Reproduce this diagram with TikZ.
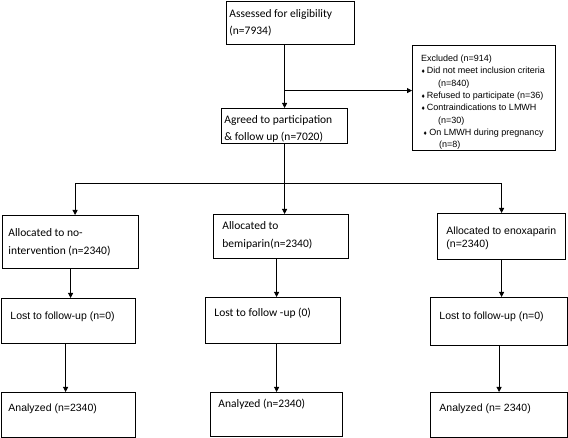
\documentclass[tikz,border=0pt]{standalone}
\usepackage{fontspec}
\setmainfont{Carlito}
\newfontfamily\arialfont{Liberation Sans}
\usetikzlibrary{arrows.meta}
\newcommand{\exbullet}{{\fontsize{6.5}{6.5}\selectfont ♦}}
\begin{document}
\begin{tikzpicture}[x=1pt, y=-1pt, line width=0.9pt,
  box/.style={draw, line width=1.2pt, inner sep=0pt, anchor=north west},
  ctxt/.style={anchor=north west, inner sep=0pt, align=left, font=\fontsize{11.5}{18}\selectfont},
  atxt/.style={anchor=north west, inner sep=0pt, align=left, font=\arialfont\fontsize{10.5}{13}\selectfont},
  arr/.style={-{Triangle[width=5pt, length=5pt]}}]
  \useasboundingbox (0,0) rectangle (568,438);
  % Screening and enrolment
  \node[box, minimum width=128, minimum height=43] (assess) at (226,1) {};
  \node[ctxt, font=\fontsize{11.5}{17}\selectfont] (assesstext) at ([shift={(3,8)}]assess.north west) {Assessed for eligibility\\(n=7934)};
  \node[box, minimum width=126, minimum height=35] (agreed) at (221,108) {};
  \node[ctxt, font=\fontsize{11.5}{17}\selectfont] (agreedtext) at ([shift={(3,7.5)}]agreed.north west) {Agreed to participation\\\& follow up (n=7020)};
  \node[box, minimum width=143, minimum height=105] (excl) at (412,45) {};
  \node[anchor=north west, inner sep=0pt, align=left, font=\arialfont\fontsize{9}{12.3}\selectfont]
    (excltext) at ([shift={(8.7,9.6)}]excl.north west)
    {Excluded (n=914)\\
     \hspace*{0.5pt}\exbullet\hspace*{2pt}Did not meet inclusion criteria\\
     \hspace*{17pt}(n=840)\\
     \hspace*{0.5pt}\exbullet\hspace*{2pt}Refused to participate (n=36)\\
     \hspace*{0.5pt}\exbullet\hspace*{2pt}Contraindications to LMWH\\
     \hspace*{17pt}(n=30)\\
     \hspace*{2.5pt}\exbullet\hspace*{2.5pt}On LMWH during pregnancy\\
     \hspace*{18pt}(n=8)};
  % Allocation
  \node[box, minimum width=136, minimum height=53] (alloc1) at (2,215) {};
  \node[ctxt] (alloc1text) at ([shift={(6,13)}]alloc1.north west) {Allocated to no-\\intervention (n=2340)};
  \node[box, minimum width=135, minimum height=44] (alloc2) at (213,214) {};
  \node[ctxt] (alloc2text) at ([shift={(9,7)}]alloc2.north west) {Allocated to\\bemiparin(n=2340)};
  \node[box, minimum width=128, minimum height=46] (alloc3) at (437,213) {};
  \node[atxt] (alloc3text) at ([shift={(9,13.5)}]alloc3.north west) {Allocated to enoxaparin\\(n=2340)};
  % Follow-up
  \node[box, minimum width=134, minimum height=45] (lost1) at (1,298) {};
  \node[atxt] (lost1text) at ([shift={(9,13.5)}]lost1.north west) {Lost to follow-up (n=0)};
  \node[box, minimum width=135, minimum height=46] (lost2) at (205,297) {};
  \node[ctxt] (lost2text) at ([shift={(9,11)}]lost2.north west) {Lost to follow -up (0)};
  \node[box, minimum width=137, minimum height=48] (lost3) at (430,297) {};
  \node[atxt] (lost3text) at ([shift={(9,14.5)}]lost3.north west) {Lost to follow-up (n=0)};
  % Analysis
  \node[box, minimum width=134, minimum height=45] (anal1) at (1,392) {};
  \node[atxt] (anal1text) at ([shift={(7,11.5)}]anal1.north west) {Analyzed (n=2340)};
  \node[box, minimum width=132, minimum height=44] (anal2) at (210,392) {};
  \node[ctxt] (anal2text) at ([shift={(8,7)}]anal2.north west) {Analyzed (n=2340)};
  \node[box, minimum width=137, minimum height=45] (anal3) at (430,392) {};
  \node[atxt] (anal3text) at ([shift={(9,11.5)}]anal3.north west) {Analyzed (n= 2340)};
  % Connectors
  \coordinate (exclin) at ([yshift=7.5pt]excl.west);
  \coordinate (split) at (agreed.south |- 0,183);
  \draw[arr] (assess.south -| agreed.north) -- (agreed.north);
  \draw[arr] (agreed.north |- exclin) -- (exclin);
  \draw (agreed.south) -- (split);
  \draw[arr] (split) -| ([xshift=4.5pt]alloc1.north);
  \draw[arr] (split) -- (split |- alloc2.north);
  \draw[arr] (split) -| (alloc3.north);
  \draw[arr] (alloc1.south) -- (alloc1.south |- lost1.north);
  \draw[arr] (alloc2.south -| anal2.north) -- (anal2.north |- lost2.north);
  \draw[arr] (alloc3.south) -- (alloc3.south |- lost3.north);
  \draw[arr] ([xshift=-3pt]lost1.south) -- ([xshift=-3pt]lost1.south |- anal1.north);
  \draw[arr] (lost2.south -| anal2.north) -- (anal2.north);
  \draw[arr] (lost3.south) -- (anal3.north);
\end{tikzpicture}
\end{document}
